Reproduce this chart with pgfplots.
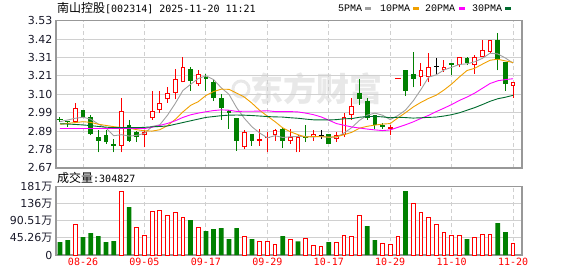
\documentclass[border=0pt]{standalone}
\usepackage{pgfplots}
\pgfplotsset{compat=1.18}
\usepackage{pgfplotstable}
\usepackage{fontspec}
\setmainfont{DejaVu Sans}
\newfontfamily\cjk{Noto Sans CJK SC}
\newfontfamily\dmono{DejaVu Sans Mono}
\newfontfamily\lmono{Liberation Mono}
\definecolor{kred}{HTML}{FF0000}
\definecolor{kgreen}{HTML}{008000}
\definecolor{maA}{HTML}{A0A0A0}
\definecolor{maB}{HTML}{F0A000}
\definecolor{maC}{HTML}{FF00FF}
\definecolor{maD}{HTML}{006B2E}
\definecolor{gridc}{HTML}{D0D0D0}
\definecolor{borderc}{HTML}{989898}
\definecolor{labc}{HTML}{1A1A2A}

\pgfplotstableread{
i O H L C
2 2.94 3.05 2.94 3.02
8 2.80 3.08 2.76 3.00
11 2.86 2.89 2.79 2.88
12 2.96 3.12 2.95 3.00
13 3.01 3.12 2.99 3.05
14 3.07 3.14 3.05 3.11
15 3.11 3.25 3.07 3.19
16 3.17 3.32 3.17 3.26
18 3.16 3.24 3.15 3.22
24 2.79 2.89 2.78 2.88
26 2.83 2.90 2.80 2.84
27 2.842 2.88 2.76 2.85
28 2.86 2.90 2.83 2.89
30 2.83 2.90 2.81 2.85
31 2.76 2.86 2.76 2.85
33 2.85 2.89 2.83 2.87
36 2.84 2.88 2.82 2.86
37 2.86 2.99 2.85 2.97
38 2.98 3.08 2.95 3.03
43 2.90 2.92 2.86 2.91
47 3.20 3.28 3.15 3.24
48 3.20 3.34 3.17 3.26
50 3.24 3.30 3.23 3.26
52 3.27 3.32 3.26 3.32
54 3.27 3.33 3.22 3.32
55 3.32 3.42 3.32 3.36
56 3.35 3.42 3.34 3.42
59 3.15 3.17 3.08 3.17
}\redC

\pgfplotstableread{
i O H L C
1 2.945 2.945 2.91 2.94
3 3.01 3.01 2.97 2.97
4 2.97 2.98 2.86 2.87
5 2.85 2.89 2.76 2.83
6 2.86 2.89 2.81 2.82
7 2.81 2.84 2.76 2.80
9 2.92 2.95 2.82 2.83
10 2.88 2.885 2.82 2.85
17 3.25 3.26 3.12 3.18
19 3.20 3.22 3.12 3.19
20 3.17 3.19 3.06 3.08
21 3.08 3.10 2.95 3.02
22 3.00 3.01 2.90 2.99
23 2.96 2.96 2.77 2.83
25 2.87 2.87 2.80 2.83
29 2.90 2.905 2.785 2.83
32 2.853 2.92 2.82 2.847
35 2.87 2.87 2.81 2.81
39 3.11 3.19 3.04 3.07
40 3.06 3.08 2.95 2.96
41 2.98 2.98 2.90 2.92
42 2.92 2.93 2.90 2.91
45 3.24 3.24 3.09 3.12
46 3.22 3.35 3.14 3.19
51 3.28 3.28 3.21 3.27
53 3.31 3.32 3.27 3.28
57 3.42 3.46 3.24 3.30
58 3.29 3.29 3.12 3.16
}\greenC

\pgfplotstableread{
i H L C
0 2.97 2.94 2.955
}\greenX

\pgfplotstableread{
i H L C
34 2.89 2.84 2.86
49 3.31 3.22 3.26
}\blackX

\pgfplotstableread{
i H L C
44 3.19 3.19 3.19
}\redX

\pgfplotstableread{
i a b c d
0 2.940 2.925 2.900 2.928
1 2.950 2.930 2.900 2.926
2 2.960 2.935 2.900 2.924
3 2.966 2.940 2.900 2.921
4 2.955 2.936 2.900 2.917
5 2.926 2.925 2.900 2.912
6 2.902 2.918 2.900 2.908
7 2.858 2.911 2.900 2.905
8 2.864 2.906 2.900 2.905
9 2.856 2.903 2.900 2.905
10 2.860 2.893 2.900 2.905
11 2.872 2.887 2.900 2.907
12 2.912 2.885 2.908 2.910
13 2.922 2.893 2.918 2.912
14 2.978 2.917 2.930 2.915
15 3.046 2.953 2.945 2.925
16 3.122 2.997 2.965 2.935
17 3.158 3.035 2.980 2.945
18 3.192 3.057 2.990 2.955
19 3.208 3.093 2.998 2.965
20 3.186 3.116 3.005 2.970
21 3.138 3.130 3.009 2.975
22 3.100 3.129 3.007 2.978
23 3.022 3.107 3.000 2.979
24 2.960 3.084 3.001 2.978
25 2.910 3.048 3.001 2.976
26 2.874 3.006 3.002 2.973
27 2.846 2.973 3.004 2.970
28 2.858 2.940 2.999 2.968
29 2.848 2.904 2.999 2.967
30 2.852 2.881 2.999 2.963
31 2.854 2.864 2.997 2.960
32 2.854 2.850 2.990 2.955
33 2.850 2.854 2.981 2.951
34 2.856 2.852 2.968 2.951
35 2.848 2.850 2.949 2.950
36 2.850 2.852 2.929 2.952
37 2.874 2.864 2.919 2.957
38 2.906 2.878 2.909 2.958
39 2.948 2.902 2.903 2.966
40 2.978 2.913 2.897 2.970
41 2.990 2.920 2.892 2.971
42 2.978 2.926 2.888 2.968
43 2.952 2.929 2.892 2.963
44 2.976 2.962 2.907 2.966
45 3.008 2.993 2.922 2.964
46 3.062 3.026 2.939 2.961
47 3.128 3.053 2.959 2.963
48 3.200 3.076 2.977 2.965
49 3.214 3.095 2.999 2.967
50 3.242 3.125 3.019 2.973
51 3.258 3.160 3.040 2.981
52 3.274 3.201 3.064 2.992
53 3.278 3.239 3.084 3.007
54 3.290 3.252 3.107 3.022
55 3.310 3.276 3.135 3.040
56 3.340 3.299 3.163 3.059
57 3.336 3.305 3.179 3.074
58 3.312 3.295 3.186 3.083
59 3.282 3.286 3.191 3.094
}\ma

\pgfplotsset{
  wick/.style={draw=none, mark=none, forget plot,
    error bars/.cd, y dir=plus, y explicit, error mark=none,
    error bar style={draw=#1, line width=1pt, solid}},
  bodybar/.style 2 args={draw=none, mark=none, forget plot,
    error bars/.cd, y dir=plus, y explicit, error mark=none,
    error bar style={draw=#1, line width=#2, solid, line cap=butt}},
}

\begin{document}
\begin{tikzpicture}
% watermark
\node[text=black!9, font=\fontsize{33}{33}\selectfont\cjk\bfseries] at (316pt,187pt) {东方财富};
\draw[black!9, line width=3pt] (241pt,187pt) circle (8pt);

\begin{axis}[
  at={(56pt,108.1pt)}, anchor=south west, scale only axis,
  width=466pt, height=147.2pt,
  xmin=-0.52, xmax=60.16, ymin=2.67, ymax=3.53,
  xtick={3,11,19,27,35,43,51,59}, xticklabels={},
  ytick={2.67,2.7775,2.885,2.9925,3.10,3.2075,3.315,3.4225,3.53},
  yticklabels={2.67,2.78,2.89,2.99,3.10,3.21,3.31,3.42,3.53},
  major tick length=0pt,
  xmajorgrids, ymajorgrids,
  x grid style={dash pattern=on 4pt off 3pt, draw=gridc, line width=1pt},
  y grid style={draw=gridc, line width=1pt},
  axis line style={draw=borderc, line width=1.3pt},
  yticklabel style={font=\fontsize{11}{13}\selectfont, text=labc},
]
% wicks
\addplot[wick=kred] table[x=i, y=L, y error plus expr={\thisrow{H}-\thisrow{L}}] {\redC};
\addplot[wick=kgreen] table[x=i, y=L, y error plus expr={\thisrow{H}-\thisrow{L}}] {\greenC};
\addplot[wick=kgreen] table[x=i, y=L, y error plus expr={\thisrow{H}-\thisrow{L}}] {\greenX};
\addplot[wick=black] table[x=i, y=L, y error plus expr={\thisrow{H}-\thisrow{L}}] {\blackX};
% bodies
\addplot[bodybar={kgreen}{4.7pt}] table[x=i, y=C, y error plus expr={\thisrow{O}-\thisrow{C}}] {\greenC};
\addplot[bodybar={kred}{4.7pt}] table[x=i, y=O, y error plus expr={\thisrow{C}-\thisrow{O}}] {\redC};
\addplot[bodybar={white}{2.7pt}] table[x=i, y expr={\thisrow{O}+0.0058}, y error plus expr={max(\thisrow{C}-\thisrow{O}-0.0117,0)}] {\redC};
% flat candles
\addplot[only marks, mark=-, mark size=2.6pt, mark options={draw=kgreen, line width=1pt}, forget plot] table[x=i, y=C] {\greenX};
\addplot[only marks, mark=-, mark size=2.6pt, mark options={draw=black, line width=1pt}, forget plot] table[x=i, y=C] {\blackX};
\addplot[only marks, mark=-, mark size=3pt, mark options={draw=kred, line width=1.2pt}, forget plot] table[x=i, y=C] {\redX};
% moving averages
\addplot[maA, line width=0.9pt, mark=none] table[x=i, y=a] {\ma};
\addplot[maB, line width=0.9pt, mark=none] table[x=i, y=b] {\ma};
\addplot[maC, line width=0.9pt, mark=none] table[x=i, y=c] {\ma};
\addplot[maD, line width=0.9pt, mark=none] table[x=i, y=d] {\ma};
\end{axis}

\begin{axis}[
  at={(56pt,21pt)}, anchor=south west, scale only axis,
  width=466pt, height=68.3pt,
  xmin=-0.52, xmax=60.16, ymin=0, ymax=181.02,
  xtick={3,11,19,27,35,43,51,59},
  xticklabels={08-26,09-05,09-17,09-29,10-17,10-29,11-10,11-20},
  xticklabel style={font=\fontsize{10}{12}\selectfont\dmono, text=kred},
  ytick={0,45.255,90.51,135.765,181.02},
  yticklabels={0,45.26{\cjk 万},90.51{\cjk 万},136{\cjk 万},181{\cjk 万}},
  yticklabel style={font=\fontsize{11}{13}\selectfont, text=labc},
  major tick length=0pt,
  xmajorgrids, ymajorgrids,
  x grid style={dash pattern=on 4pt off 3pt, draw=gridc, line width=1pt},
  y grid style={draw=gridc, line width=1pt},
  axis line style={draw=borderc, line width=1.3pt},
]
\addplot[ybar, bar width=4.7pt, bar shift=0pt, fill=kgreen, draw=none] coordinates {
(0,34.4) (1,39.7) (3,47.7) (4,58.3) (5,50.3) (6,34.4) (7,37.1) (9,127.2)
(17,92.7) (19,63.6) (20,68.9) (21,71.5) (22,42.4) (23,71.5) (25,42.4)
(29,50.3) (31,36.2) (35,34.4) (40,76.8) (41,39.7) (45,169.5) (53,42.4)
(57,84.8) (58,60.9)};
\addplot[ybar, bar width=3.7pt, bar shift=0pt, fill=white, draw=kred, line width=1pt] coordinates {
(2,81.2) (8,168.7) (10,74.2) (11,52.1) (12,115.7) (13,118.3) (14,105.1)
(15,113.0) (16,99.8) (18,73.3) (24,50.3) (26,36.2) (27,36.2) (28,28.3)
(30,41.5) (32,44.2) (33,26.5) (34,23.8) (36,34.4) (37,52.1) (38,50.3)
(39,105.1) (42,30.9) (43,28.3) (44,50.3) (46,136.9) (47,113.0) (48,99.8)
(49,81.2) (50,60.0) (51,52.1) (52,52.1) (54,46.8) (55,54.7) (56,54.7)
(59,30.48)};
\end{axis}

% title and labels
\node[anchor=west, inner sep=0pt] at (57pt,268pt) {{\fontsize{12}{14}\selectfont\cjk 南山控股}{\fontsize{10}{12}\selectfont\dmono [002314] 2025-11-20 11:21}};
\node[anchor=west, inner sep=0pt] at (57pt,98pt) {{\fontsize{12}{14}\selectfont\cjk 成交量}{\fontsize{10}{12}\selectfont\dmono :304827}};

% legend
\node[anchor=west, inner sep=0pt, font=\fontsize{10}{12}\selectfont\lmono] at (338pt,267.5pt) {5PMA};
\fill[maA] (365pt,265.8pt) rectangle (370.5pt,269.2pt);
\node[anchor=west, inner sep=0pt, font=\fontsize{10}{12}\selectfont\lmono] at (380pt,267.5pt) {10PMA};
\fill[maB] (413pt,265.8pt) rectangle (418.5pt,269.2pt);
\node[anchor=west, inner sep=0pt, font=\fontsize{10}{12}\selectfont\lmono] at (425pt,267.5pt) {20PMA};
\fill[maC] (459pt,265.8pt) rectangle (464.5pt,269.2pt);
\node[anchor=west, inner sep=0pt, font=\fontsize{10}{12}\selectfont\lmono] at (472pt,267.5pt) {30PMA};
\fill[maD] (505pt,265.8pt) rectangle (510.5pt,269.2pt);

\pgfresetboundingbox
\path[use as bounding box] (0pt,0pt) rectangle (578pt,276pt);
\end{tikzpicture}
\end{document}
